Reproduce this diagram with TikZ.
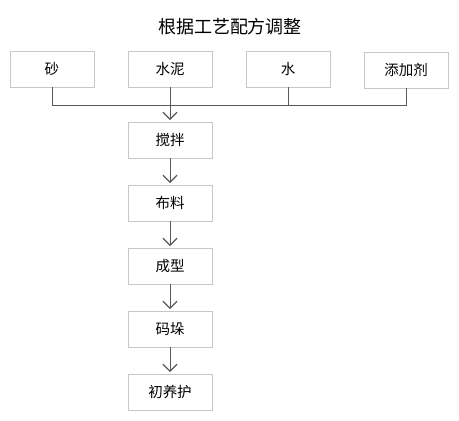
\documentclass[tikz,border=0pt]{standalone}
\usepackage{fontspec}
\setmainfont{Noto Sans CJK SC}
\usetikzlibrary{positioning, arrows.meta}

\begin{document}
\begin{tikzpicture}[x=1pt, y=1pt, node distance=63pt, on grid,
        box/.style={draw=black!22, line width=0.8pt, minimum width=84pt, minimum height=36pt,
            font=\fontsize{14.5}{14.5}\selectfont},
        link/.style={draw=black!65, line width=0.9pt},
        flow/.style={link, shorten >=1.5pt, -{Straight Barb[length=7pt, width=14pt, line width=1.3pt]}}]
            \useasboundingbox (0,0) rectangle (459,421);
            \node[font=\fontsize{18}{18}\selectfont] (title) at (230,394) {根据工艺配方调整};
            \node[box] (1) at (52,352) {砂};
            \node[box] (2) at (170,352) {水泥};
            \node[box] (3) at (288,352) {水};
            \node[box] (4) at (406,351) {添加剂};
            \node[box] (5) at (170,281) {搅拌};
            \node[box, below=of 5] (6) {布料};
            \node[box, below=of 6] (7) {成型};
            \node[box, below=of 7] (8) {码垛};
            \node[box, below=of 8] (9) {初养护};
            \coordinate (bus) at (170,316);

            \draw[link] (1.south) -- (1.south |- bus) -- (4.south |- bus) -- (4.south);
            \draw[link] (2.south) -- (2.south |- bus);
            \draw[link] (3.south) -- (3.south |- bus);
            \draw[flow] (bus) -- (5.north);

            \path[flow]
            (5) edge (6)
            (6) edge (7)
            (7) edge (8)
            (8) edge (9);
        \end{tikzpicture}
\end{document}
